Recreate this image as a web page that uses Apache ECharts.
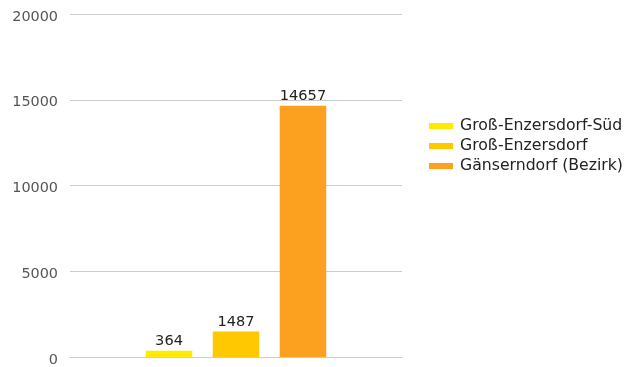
<!DOCTYPE html>
<html>
<head>
<meta charset="utf-8">
<script src="https://cdn.jsdelivr.net/npm/echarts@6/dist/echarts.min.js"></script>
<style>
  html, body { margin: 0; padding: 0; background: #fff; }
  #chart { width: 640px; height: 367px; }
</style>
</head>
<body>
<div id="chart"></div>
<script>
// Einwohnerzahlen
const categories = [''];
const seriesNames = ['Groß-Enzersdorf-Süd', 'Groß-Enzersdorf', 'Gänserndorf (Bezirk)'];
const seriesValues = [[364], [1487], [14657]];
const seriesColors = ['#FFEA00', '#FFC800', '#FBA11F'];
const yTicks = { min: 0, max: 20000, interval: 5000 };

const font = 'DejaVu Sans';

const chart = echarts.init(document.getElementById('chart'), null, { renderer: 'canvas' });

chart.setOption({
  animation: false,
  textStyle: { fontFamily: font },
  grid: { left: 70, right: 238, top: 14, bottom: 10, containLabel: false },
  legend: {
    orient: 'vertical',
    left: 429,
    top: 118,
    padding: 0,
    itemWidth: 24,
    itemHeight: 6,
    itemGap: 4,
    icon: 'rect',
    textStyle: { fontFamily: font, fontSize: 15.7, lineHeight: 16, color: '#222', padding: [0, 0, 0, 2] },
    data: seriesNames
  },
  xAxis: {
    type: 'category',
    data: categories,
    axisLine: { show: true, lineStyle: { color: '#ccc', width: 1 } },
    axisTick: { show: false },
    axisLabel: { show: false }
  },
  yAxis: {
    type: 'value',
    min: yTicks.min,
    max: yTicks.max,
    interval: yTicks.interval,
    axisLine: { show: false },
    axisTick: { show: false },
    axisLabel: {
      fontFamily: font,
      fontSize: 14.4,
      color: '#555',
      margin: 12,
      verticalAlign: 'top',
      lineHeight: 6,
      formatter: v => String(v)
    },
    splitLine: { lineStyle: { color: '#ccc', width: 1 } }
  },
  series: seriesNames.map((name, i) => ({
    name: name,
    type: 'bar',
    data: seriesValues[i],
    barWidth: 46.5,
    barGap: '44%',
    itemStyle: { color: seriesColors[i] },
    label: {
      show: true,
      position: 'top',
      distance: 2,
      fontFamily: font,
      fontSize: 14.6,
      color: '#222'
    }
  }))
});
</script>
</body>
</html>
